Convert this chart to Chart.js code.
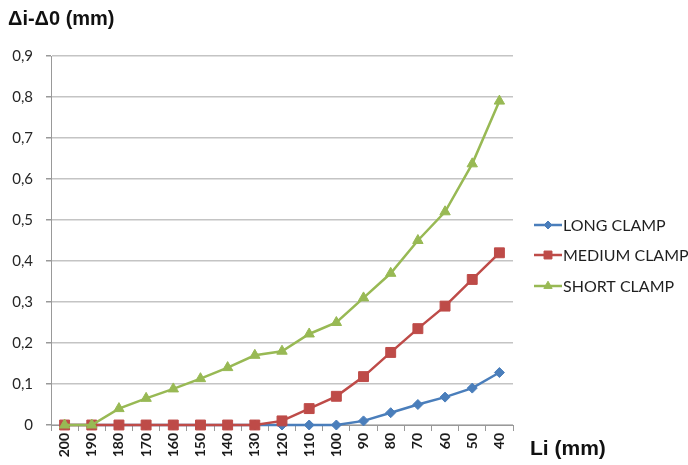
<!DOCTYPE html>
<html>
<head>
<meta charset="utf-8">
<script src="https://cdn.jsdelivr.net/npm/chart.js@4/dist/chart.umd.min.js"></script>
<style>
  html, body { margin: 0; padding: 0; background: #fff; }
  #wrap { width: 688px; height: 465px; position: relative; }
</style>
</head>
<body>
<div id="wrap"><canvas id="chart" width="688" height="465"></canvas></div>
<script>
// DATA
const categories = ['200', '190', '180', '170', '160', '150', '140', '130', '120',
    '110', '100', '90', '80', '70', '60', '50', '40'];
const longClamp = [0, 0, 0, 0, 0, 0, 0, 0, 0, 0, 0, 0.01, 0.03, 0.05, 0.068, 0.09, 0.128];
const mediumClamp = [0, 0, 0, 0, 0, 0, 0, 0, 0.01, 0.04, 0.07, 0.118, 0.177, 0.235, 0.29, 0.355, 0.42];
const shortClamp = [0, 0, 0.04, 0.065, 0.088, 0.113, 0.14, 0.17, 0.18, 0.222, 0.25, 0.31, 0.37, 0.45, 0.52, 0.637, 0.79];
const yMin = 0;
const yMax = 0.9;
const yStep = 0.1;
const yTitle = 'Δi-Δ0 (mm)';
const xTitle = 'Li (mm)';

// STYLES
const FONT = 'Lato, "Liberation Sans", sans-serif';
// later series are painted over the earlier ones, as in the source
const series = [
    {label: 'LONG CLAMP', data: longClamp, color: '#4a7ebb', pointStyle: 'rectRot', radius: 5, order: 2},
    {label: 'MEDIUM CLAMP', data: mediumClamp, color: '#be4b48', pointStyle: 'rect', radius: 7, order: 1},
    {label: 'SHORT CLAMP', data: shortClamp, color: '#98b954', pointStyle: 'triangle', radius: 6, order: 0},
];

// titles and legend drawn in the free margins
const extras = {
    id: 'extras',
    afterDraw(chart) {
        const ctx = chart.ctx;
        ctx.save();
        ctx.fillStyle = '#111';
        ctx.textBaseline = 'alphabetic';
        ctx.textAlign = 'left';
        ctx.font = 'bold 20px "Liberation Sans", Arial, sans-serif';
        ctx.fillText(yTitle, 8, 25);
        ctx.font = 'bold 21px "Liberation Sans", Arial, sans-serif';
        ctx.fillText(xTitle, 530, 455);
        // legend
        const x0 = 534, x1 = 562;
        const ys = [225, 255, 286];
        chart.data.datasets.forEach((ds, i) => {
            const y = ys[i];
            ctx.strokeStyle = ds.borderColor;
            ctx.lineWidth = 2.5;
            ctx.beginPath();
            ctx.moveTo(x0, y);
            ctx.lineTo(x1, y);
            ctx.stroke();
            if (Chart.helpers && Chart.helpers.drawPoint) {
                ctx.fillStyle = ds.pointBackgroundColor;
                ctx.strokeStyle = ds.pointBorderColor;
                ctx.lineWidth = 1;
                Chart.helpers.drawPoint(ctx, {
                    pointStyle: ds.pointStyle,
                    radius: ds.pointRadius * 0.8,
                    rotation: 0,
                    borderWidth: 1,
                }, (x0 + x1) / 2, y);
            }
            ctx.fillStyle = '#1f1f1f';
            ctx.font = '16px ' + FONT;
            ctx.textBaseline = 'middle';
            ctx.fillText(ds.label, x1 + 1, y + 1);
        });
        ctx.restore();
    }
};

const datasets = series.map(s => ({
    label: s.label,
    data: s.data,
    order: s.order,
    clip: false,
    borderColor: s.color,
    backgroundColor: s.color,
    pointBackgroundColor: s.color,
    pointBorderColor: s.color,
    pointStyle: s.pointStyle,
    pointRadius: s.radius,
    pointBorderWidth: 1,
    borderWidth: 2.5,
    tension: 0,
    fill: false,
}));

const ctx = document.getElementById('chart').getContext('2d');
new Chart(ctx, {
    type: 'line',
    data: {labels: categories, datasets},
    plugins: [extras],
    options: {
        responsive: false,
        animation: false,
        layout: {padding: {top: 56, right: 175, left: 0, bottom: 0}},
        plugins: {
            legend: {display: false},
            tooltip: {enabled: false},
        },
        scales: {
            x: {
                offset: true,
                afterFit(scale) { scale.height = 40; },
                grid: {
                    offset: true,
                    drawOnChartArea: false,
                    drawTicks: true,
                    tickLength: 6,
                    color: '#999',
                },
                border: {color: '#999', width: 1},
                ticks: {
                    minRotation: 90,
                    maxRotation: 90,
                    autoSkip: false,
                    padding: 2,
                    color: '#1a1a1a',
                    font: {family: FONT, size: 14, weight: 'bold'},
                },
            },
            y: {
                min: yMin,
                max: yMax,
                afterFit(scale) { scale.width = 51; },
                grid: {
                    color: '#c4c4c4',
                    lineWidth: 1.5,
                    drawTicks: true,
                    tickLength: 5,
                    tickColor: '#999',
                },
                border: {color: '#999', width: 1},
                ticks: {
                    stepSize: yStep,
                    padding: 13,
                    color: '#262626',
                    font: {family: FONT, size: 15},
                    callback: v => (Math.round(v * 10) / 10).toString().replace('.', ','),
                },
            },
        },
    },
});
</script>
</body>
</html>
